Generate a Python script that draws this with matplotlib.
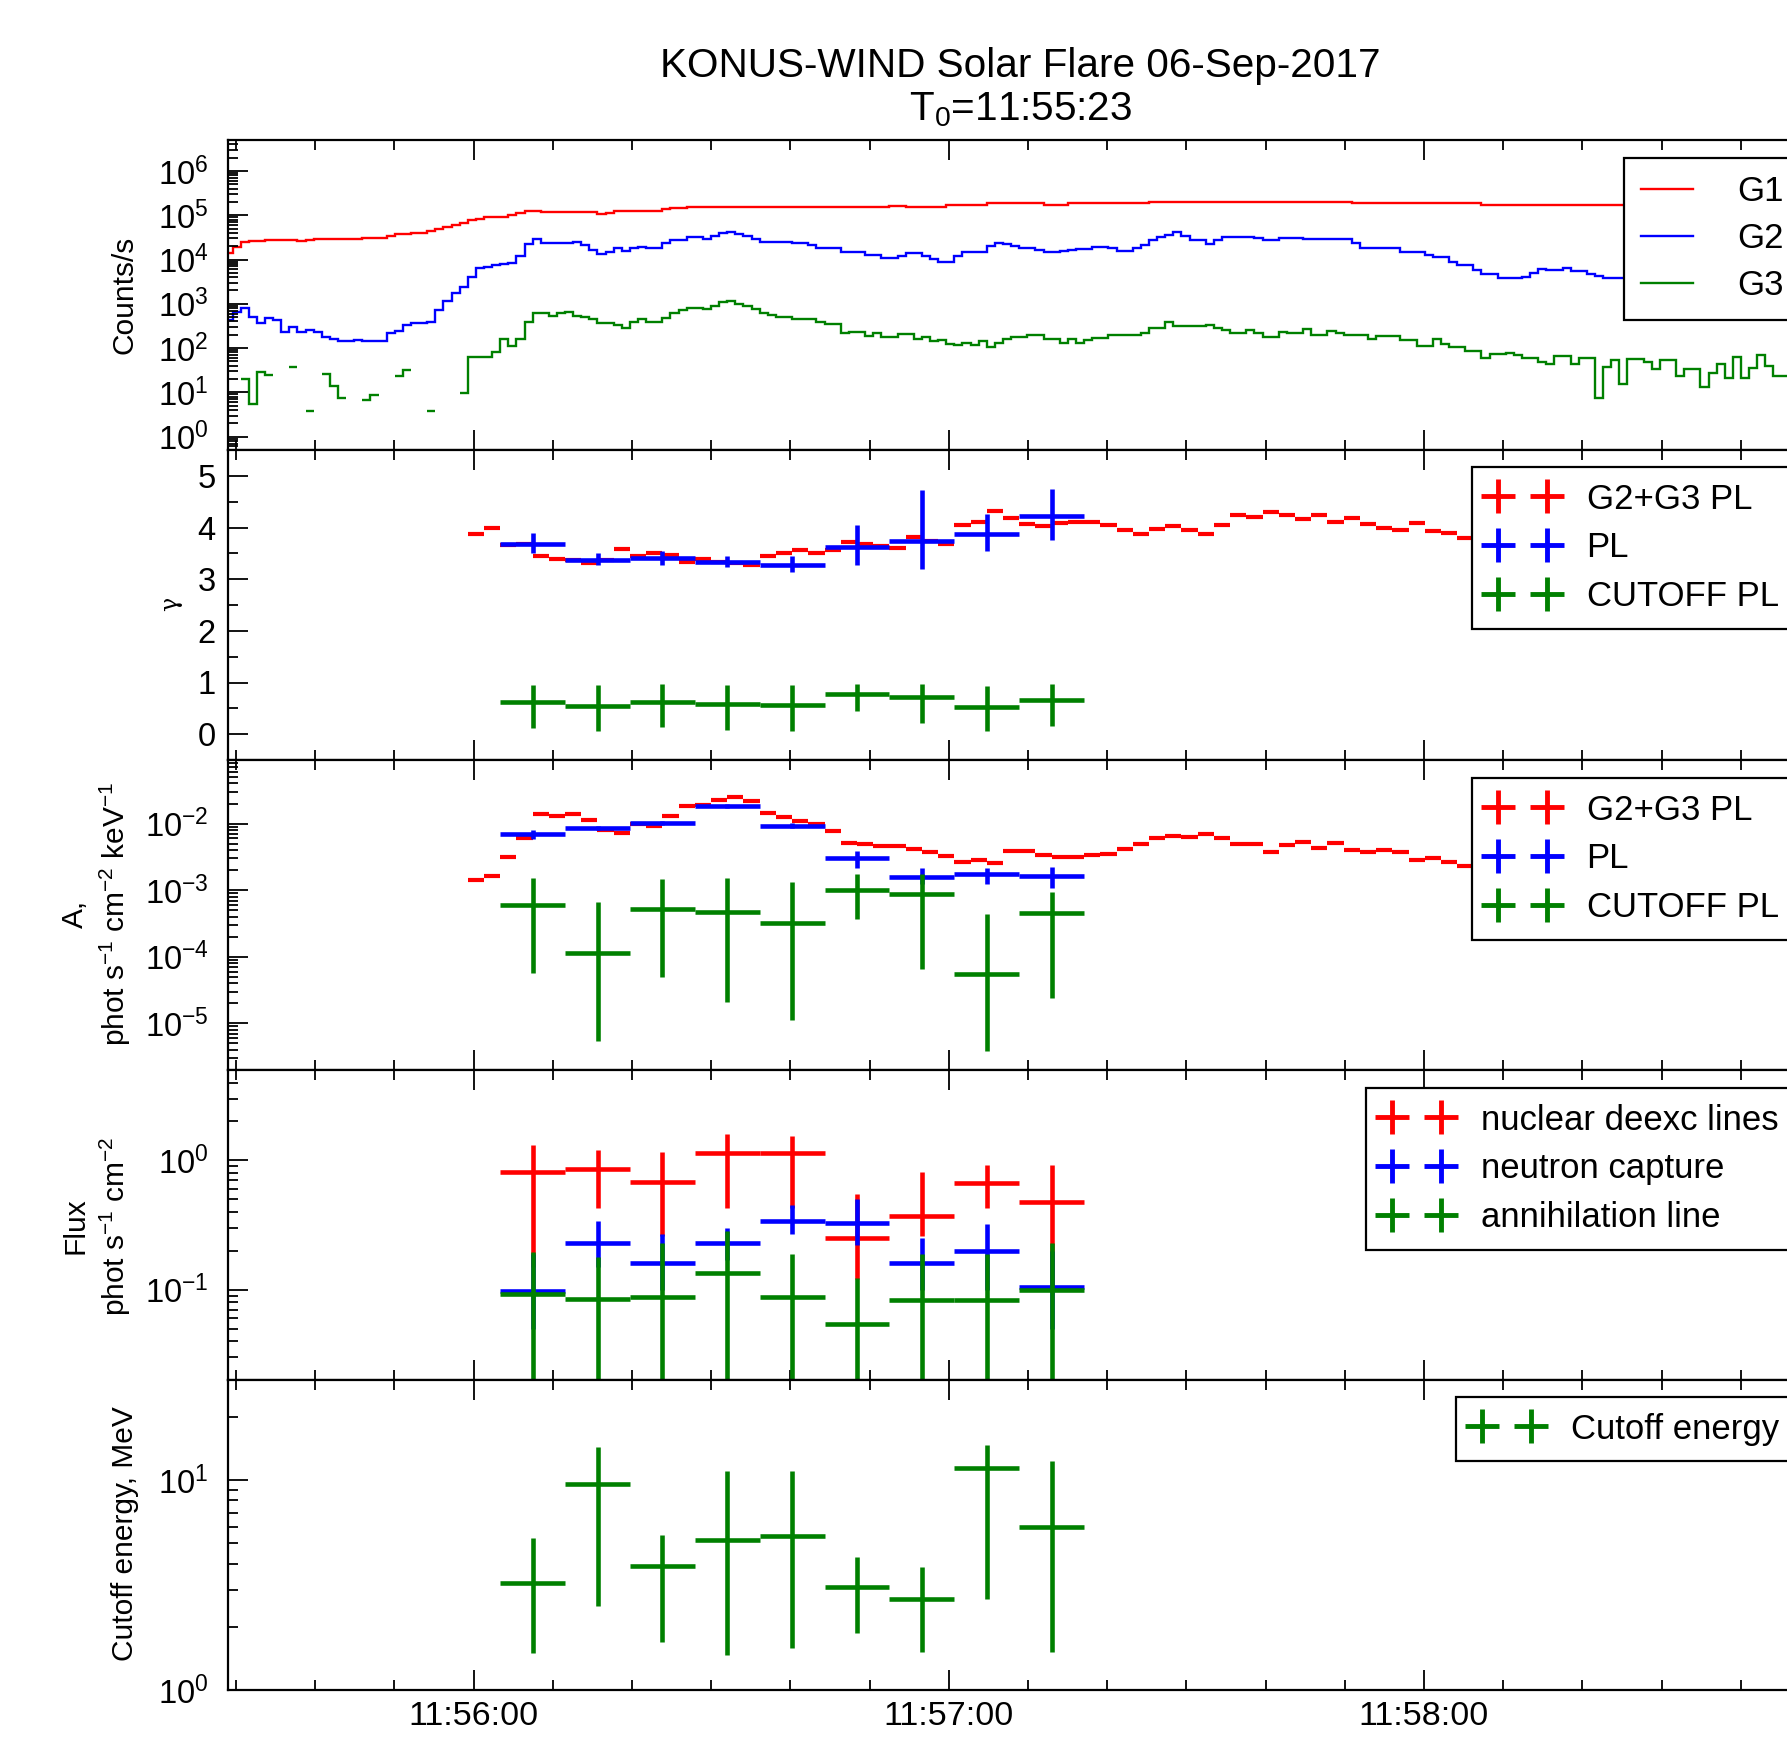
import numpy as np
import matplotlib
matplotlib.use('Agg')
import matplotlib.pyplot as plt
from matplotlib.ticker import MultipleLocator, FixedLocator, FuncFormatter, LogLocator, NullFormatter
from matplotlib.lines import Line2D

plt.rcParams['font.family'] = ['Liberation Sans', 'DejaVu Sans']
plt.rcParams['mathtext.fontset'] = 'custom'
plt.rcParams['mathtext.rm'] = 'Liberation Sans'
plt.rcParams['mathtext.it'] = 'Liberation Sans:italic'
plt.rcParams['mathtext.bf'] = 'Liberation Sans:bold'
plt.rcParams['axes.unicode_minus'] = False

nan = np.nan

# times in seconds after T0 = 11:55:23
T0_SOD = 11 * 3600 + 55 * 60 + 23
lc_start, lc_width = 5.55, 1.024        # light curve bins
sp_start, sp_width = 36.27, 2.048       # G2+G3 PL spectra
sp4_start, sp4_width = 40.37, 8.192     # PL / CUTOFF PL / line spectra

# light curves, log10(counts/s)
g1_log = [
    4.14, 4.28, 4.40, 4.42, 4.42, 4.45, 4.45, 4.43, 4.43, 4.41,
    4.44, 4.46, 4.46, 4.46, 4.46, 4.47, 4.47, 4.49, 4.49, 4.49,
    4.54, 4.57, 4.57, 4.61, 4.61, 4.65, 4.68, 4.73, 4.77, 4.82,
    4.89, 4.92, 4.95, 4.95, 4.97, 5.00, 5.04, 5.09, 5.09, 5.07,
    5.07, 5.07, 5.07, 5.07, 5.07, 5.07, 5.02, 5.06, 5.10, 5.10,
    5.10, 5.10, 5.10, 5.10, 5.13, 5.16, 5.16, 5.19, 5.19, 5.19,
    5.19, 5.19, 5.19, 5.19, 5.19, 5.19, 5.19, 5.19, 5.19, 5.19,
    5.19, 5.19, 5.19, 5.19, 5.19, 5.19, 5.19, 5.19, 5.19, 5.19,
    5.18, 5.18, 5.21, 5.21, 5.19, 5.19, 5.19, 5.19, 5.19, 5.22,
    5.22, 5.22, 5.22, 5.22, 5.27, 5.27, 5.27, 5.27, 5.27, 5.27,
    5.27, 5.23, 5.23, 5.23, 5.27, 5.27, 5.27, 5.27, 5.27, 5.27,
    5.27, 5.27, 5.27, 5.27, 5.31, 5.31, 5.31, 5.31, 5.31, 5.31,
    5.29, 5.29, 5.29, 5.29, 5.29, 5.29, 5.29, 5.29, 5.29, 5.29,
    5.29, 5.29, 5.29, 5.29, 5.29, 5.29, 5.29, 5.29, 5.29, 5.27,
    5.27, 5.27, 5.27, 5.27, 5.27, 5.27, 5.27, 5.27, 5.27, 5.27,
    5.27, 5.27, 5.27, 5.27, 5.27, 5.23, 5.23, 5.23, 5.23, 5.23,
    5.23, 5.23, 5.23, 5.23, 5.22, 5.22, 5.22, 5.22, 5.22, 5.22,
    5.22, 5.22, 5.22, 5.22, 5.22, 5.22, 5.22, 5.22, 5.22, 5.22,
    5.22]
g2_log = [
    2.64, 2.82, 2.91, 2.71, 2.56, 2.69, 2.64, 2.37, 2.47, 2.37,
    2.41, 2.37, 2.26, 2.20, 2.16, 2.16, 2.18, 2.17, 2.17, 2.15,
    2.33, 2.39, 2.52, 2.56, 2.56, 2.60, 2.86, 3.06, 3.25, 3.39,
    3.61, 3.80, 3.84, 3.87, 3.89, 3.92, 4.07, 4.34, 4.46, 4.37,
    4.37, 4.37, 4.37, 4.40, 4.33, 4.22, 4.12, 4.18, 4.25, 4.20,
    4.25, 4.29, 4.27, 4.27, 4.37, 4.44, 4.44, 4.50, 4.50, 4.47,
    4.52, 4.59, 4.62, 4.57, 4.52, 4.46, 4.40, 4.40, 4.39, 4.39,
    4.37, 4.37, 4.33, 4.25, 4.25, 4.25, 4.16, 4.16, 4.16, 4.10,
    4.10, 4.03, 4.03, 4.08, 4.14, 4.14, 4.07, 4.01, 3.95, 3.95,
    4.08, 4.17, 4.17, 4.17, 4.31, 4.37, 4.35, 4.30, 4.25, 4.25,
    4.22, 4.18, 4.18, 4.20, 4.22, 4.24, 4.24, 4.28, 4.28, 4.25,
    4.19, 4.19, 4.26, 4.33, 4.44, 4.50, 4.56, 4.62, 4.54, 4.44,
    4.44, 4.35, 4.44, 4.50, 4.50, 4.50, 4.50, 4.48, 4.44, 4.44,
    4.49, 4.49, 4.49, 4.46, 4.46, 4.46, 4.46, 4.46, 4.46, 4.37,
    4.27, 4.27, 4.27, 4.27, 4.27, 4.16, 4.16, 4.16, 4.10, 4.05,
    4.05, 3.95, 3.88, 3.88, 3.76, 3.67, 3.67, 3.58, 3.58, 3.58,
    3.60, 3.70, 3.78, 3.77, 3.76, 3.80, 3.73, 3.73, 3.67, 3.63,
    3.58, 3.58, 3.58, 3.58, 3.58, 3.58, 3.58, 3.58, 3.58, 3.58,
    3.58]
g3_log = [
    nan, nan, 1.30, 0.74, 1.45, 1.39, nan, nan, 1.57, nan,
    0.57, nan, 1.41, 1.14, 0.88, nan, nan, 0.83, 0.93, nan,
    nan, 1.37, 1.51, nan, nan, 0.57, nan, nan, nan, 0.98,
    1.81, 1.81, 1.81, 1.92, 2.21, 2.05, 2.21, 2.58, 2.79, 2.79,
    2.73, 2.79, 2.82, 2.73, 2.70, 2.66, 2.56, 2.56, 2.52, 2.46,
    2.58, 2.65, 2.58, 2.58, 2.67, 2.80, 2.86, 2.90, 2.90, 2.88,
    2.94, 3.03, 3.06, 3.00, 2.96, 2.88, 2.79, 2.75, 2.71, 2.71,
    2.66, 2.66, 2.66, 2.60, 2.55, 2.55, 2.35, 2.37, 2.37, 2.27,
    2.33, 2.26, 2.26, 2.31, 2.31, 2.21, 2.26, 2.16, 2.18, 2.09,
    2.06, 2.11, 2.06, 2.15, 2.03, 2.12, 2.20, 2.26, 2.26, 2.30,
    2.30, 2.20, 2.20, 2.11, 2.20, 2.11, 2.18, 2.22, 2.22, 2.30,
    2.30, 2.30, 2.30, 2.35, 2.45, 2.45, 2.58, 2.51, 2.51, 2.49,
    2.49, 2.52, 2.45, 2.40, 2.35, 2.35, 2.40, 2.33, 2.24, 2.24,
    2.36, 2.35, 2.35, 2.42, 2.30, 2.30, 2.39, 2.35, 2.29, 2.29,
    2.29, 2.20, 2.28, 2.28, 2.28, 2.18, 2.18, 2.05, 2.05, 2.21,
    2.09, 2.03, 2.03, 1.94, 1.94, 1.77, 1.86, 1.86, 1.90, 1.85,
    1.77, 1.77, 1.69, 1.64, 1.82, 1.82, 1.64, 1.77, 1.77, 0.88,
    1.58, 1.73, 1.18, 1.75, 1.75, 1.69, 1.52, 1.73, 1.73, 1.36,
    1.52, 1.52, 1.13, 1.43, 1.64, 1.32, 1.79, 1.32, 1.54, 1.85,
    1.60, 1.37, 1.37]

# G2+G3 power law fit (2.048 s)
gamma_g23 = [
    3.87, 3.99, 3.67, 3.68, 3.45, 3.40, 3.37, 3.31, 3.37, 3.58,
    3.45, 3.50, 3.47, 3.34, 3.40, 3.34, 3.32, 3.28, 3.44, 3.50,
    3.57, 3.51, 3.57, 3.71, 3.68, 3.65, 3.60, 3.82, 3.73, 3.68,
    4.05, 4.11, 4.32, 4.18, 4.06, 4.03, 4.08, 4.10, 4.10, 4.05,
    3.95, 3.88, 3.98, 4.02, 3.95, 3.87, 4.04, 4.24, 4.21, 4.30,
    4.25, 4.17, 4.24, 4.10, 4.19, 4.06, 4.00, 3.96, 4.09, 3.94,
    3.90, 3.79]
a_g23_log = [
    -2.84, -2.78, -2.50, -2.22, -1.86, -1.88, -1.86, -1.95, -2.09, -2.14,
    -2.00, -2.04, -1.88, -1.74, -1.72, -1.65, -1.60, -1.66, -1.84, -1.90,
    -1.96, -2.00, -2.11, -2.29, -2.30, -2.33, -2.33, -2.38, -2.42, -2.48,
    -2.58, -2.55, -2.59, -2.41, -2.41, -2.47, -2.50, -2.50, -2.47, -2.45,
    -2.38, -2.30, -2.22, -2.18, -2.20, -2.16, -2.22, -2.31, -2.31, -2.42,
    -2.32, -2.28, -2.37, -2.29, -2.39, -2.43, -2.39, -2.42, -2.54, -2.52,
    -2.58, -2.63]

# PL and CUTOFF PL fits (8.192 s)
gamma_pl = [3.68, 3.38, 3.41, 3.34, 3.27, 3.62, 3.74, 3.88, 4.22]
gamma_pl_lo = [0.18, 0.11, 0.14, 0.10, 0.14, 0.35, 0.54, 0.34, 0.46]
gamma_pl_hi = [0.21, 0.13, 0.14, 0.10, 0.17, 0.43, 0.99, 0.38, 0.52]
gamma_cpl = [0.62, 0.55, 0.63, 0.59, 0.57, 0.78, 0.71, 0.52, 0.67]
gamma_cpl_lo = [0.51, 0.48, 0.50, 0.50, 0.50, 0.33, 0.50, 0.46, 0.52]
gamma_cpl_hi = [0.34, 0.40, 0.34, 0.37, 0.38, 0.19, 0.27, 0.42, 0.30]

a_pl_log = [-2.16, -2.07, -1.99, -1.74, -2.03, -2.51, -2.80, -2.75, -2.78]
a_pl_log_lo = [-2.23, -2.10, -2.02, -1.77, -2.07, -2.66, -2.90, -2.90, -2.96]
a_pl_log_hi = [-2.09, -2.04, -1.96, -1.71, -1.99, -2.41, -2.66, -2.66, -2.65]
a_cpl_log = [-3.22, -3.94, -3.28, -3.33, -3.49, -2.99, -3.05, -4.26, -3.34]
a_cpl_log_lo = [-4.25, -5.27, -4.30, -4.68, -4.95, -3.43, -4.19, -5.41, -4.62]
a_cpl_log_hi = [-2.82, -3.17, -2.83, -2.82, -2.87, -2.75, -2.75, -3.35, -3.02]

# line fluxes, phot/s/cm2
flux_nuc = [0.82, 0.86, 0.68, 1.13, 1.13, 0.25, 0.37, 0.67, 0.48]
flux_nuc_lo = [0.15, 0.43, 0.26, 0.43, 0.43, 0.12, 0.26, 0.43, 0.10]
flux_nuc_hi = [1.31, 1.20, 1.17, 1.60, 1.55, 0.55, 0.82, 0.92, 0.92]
flux_ncap = [0.097, 0.229, 0.16, 0.23, 0.34, 0.33, 0.16, 0.20, 0.104]
flux_ncap_lo = [0.05, 0.15, 0.10, 0.17, 0.27, 0.22, 0.10, 0.10, 0.05]
flux_ncap_hi = [0.19, 0.34, 0.27, 0.30, 0.45, 0.50, 0.25, 0.32, 0.20]
flux_ann = [0.093, 0.085, 0.088, 0.135, 0.088, 0.054, 0.083, 0.083, 0.10]
flux_ann_lo = [0.001, 0.001, 0.001, 0.001, 0.001, 0.001, 0.001, 0.001, 0.001]
flux_ann_hi = [0.197, 0.18, 0.23, 0.285, 0.19, 0.123, 0.19, 0.19, 0.23]

# cutoff energy, MeV
e_cut = [3.23, 9.6, 3.9, 5.2, 5.4, 3.1, 2.72, 11.4, 5.97]
e_cut_lo = [1.5, 2.5, 1.7, 1.47, 1.58, 1.86, 1.52, 2.72, 1.52]
e_cut_hi = [5.3, 14.4, 5.5, 11.1, 11.1, 4.3, 3.86, 14.7, 12.4]

RED, BLUE, GREEN = '#ff0000', '#0000ff', '#008000'
W, H = 1787, 1746
fig = plt.figure(figsize=(W / 100, H / 100), dpi=100)

left, right = 228, 1812
tops = [140, 450, 760, 1070, 1380]
ph = 310
axes = []
for tp in tops:
    ax = fig.add_axes([left / W, 1 - (tp + ph) / H, (right - left) / W, ph / H])
    axes.append(ax)
ax1, ax2, ax3, ax4, ax5 = axes


def hms(x, pos=None):
    s = int(round(T0_SOD + x))
    return '%02d:%02d:%02d' % (s // 3600, (s % 3600) // 60, s % 60)


for ax in axes:
    ax.set_xlim(6, 206)
    ax.xaxis.set_major_locator(FixedLocator([37, 97, 157]))
    ax.xaxis.set_minor_locator(MultipleLocator(10, offset=7))
    ax.xaxis.set_major_formatter(FuncFormatter(hms))
    ax.tick_params(which='both', direction='in', top=True, right=True, width=1.3)
    ax.tick_params(which='major', length=14.5, labelsize=23.5, pad=9)
    ax.tick_params(which='minor', length=7.2)
    for sp in ax.spines.values():
        sp.set_linewidth(1.6)
    if ax is not ax5:
        ax.tick_params(labelbottom=False)
ax5.tick_params(axis='x', labelsize=24.5, pad=8)


def log_axis(ax, lo, hi):
    ax.set_yscale('log')
    ax.set_ylim(lo, hi)
    # only the decades inside the panel, so no labels hang over the neighbours
    decades = [10.0 ** k for k in range(int(np.ceil(np.log10(lo) - 1e-9)),
                                        int(np.floor(np.log10(hi) + 1e-9)) + 1)]
    ax.yaxis.set_major_locator(FixedLocator(decades))
    ax.yaxis.set_minor_locator(LogLocator(base=10, subs=np.arange(2, 10), numticks=20))
    ax.yaxis.set_minor_formatter(NullFormatter())
    ax.tick_params(axis='y', which='major', pad=14)


def crosses(ax, start, width, y, lo, hi, color, lw):
    n = len(y)
    xc = start + width * (np.arange(n) + 0.5)
    y = np.asarray(y)
    ax.errorbar(xc, y, xerr=width / 2,
                yerr=[y - np.asarray(lo), np.asarray(hi) - y],
                fmt='none', ecolor=color, elinewidth=lw, capsize=0)


def plus_handles(colors):
    return [Line2D([], [], color=c, marker='+', linestyle='none',
                   markersize=24, markeredgewidth=3.5) for c in colors]


def place_legend(ax, handles, labels, x_px, y_px, **kw):
    leg = ax.legend(handles, labels, loc='upper left',
                    bbox_to_anchor=(x_px / W, 1 - y_px / H), bbox_transform=fig.transFigure,
                    borderaxespad=0, fancybox=False, framealpha=1, edgecolor='black',
                    fontsize=25, **kw)
    leg.get_frame().set_linewidth(1.6)
    return leg


# panel 1: count rates
lc_edges = lambda n: lc_start + lc_width * np.arange(n + 1)
ax1.stairs(10 ** np.array(g1_log), lc_edges(len(g1_log)), baseline=None, color=RED, lw=1.7)
ax1.stairs(10 ** np.array(g2_log), lc_edges(len(g2_log)), baseline=None, color=BLUE, lw=1.7)
ax1.stairs(10 ** np.array(g3_log), lc_edges(len(g3_log)), baseline=None, color=GREEN, lw=1.7)
log_axis(ax1, 0.5, 5e6)
place_legend(ax1, [Line2D([], [], color=c, lw=1.7) for c in (RED, BLUE, GREEN)],
             ['G1', 'G2', 'G3'], 1624, 158,
             handlelength=1.5, handletextpad=1.25, borderpad=0.5, labelspacing=0.4)

# panel 2: photon index
n23 = len(gamma_g23)
ax2.errorbar(sp_start + sp_width * (np.arange(n23) + 0.5), gamma_g23, xerr=sp_width / 2,
             fmt='none', ecolor=RED, elinewidth=3.0, capsize=0)
g = np.array(gamma_pl)
crosses(ax2, sp4_start, sp4_width, g, g - np.array(gamma_pl_lo), g + np.array(gamma_pl_hi), BLUE, 3.3)
g = np.array(gamma_cpl)
crosses(ax2, sp4_start, sp4_width, g, g - np.array(gamma_cpl_lo), g + np.array(gamma_cpl_hi), GREEN, 3.3)
ax2.set_ylim(-0.5, 5.5)
ax2.yaxis.set_major_locator(FixedLocator([0, 1, 2, 3, 4, 5]))
ax2.yaxis.set_minor_locator(FixedLocator([0.5, 1.5, 2.5, 3.5, 4.5]))
leg_kw = dict(numpoints=2, handlelength=2.0, handletextpad=0.85, borderpad=0.45, labelspacing=0.45)
place_legend(ax2, plus_handles((RED, BLUE, GREEN)), ['G2+G3 PL', 'PL', 'CUTOFF PL'], 1472, 467, **leg_kw)

# panel 3: normalisation
ax3.errorbar(sp_start + sp_width * (np.arange(n23) + 0.5), 10 ** np.array(a_g23_log), xerr=sp_width / 2,
             fmt='none', ecolor=RED, elinewidth=3.0, capsize=0)
crosses(ax3, sp4_start, sp4_width, 10 ** np.array(a_pl_log), 10 ** np.array(a_pl_log_lo),
        10 ** np.array(a_pl_log_hi), BLUE, 3.3)
crosses(ax3, sp4_start, sp4_width, 10 ** np.array(a_cpl_log), 10 ** np.array(a_cpl_log_lo),
        10 ** np.array(a_cpl_log_hi), GREEN, 3.3)
log_axis(ax3, 2e-6, 0.09)
place_legend(ax3, plus_handles((RED, BLUE, GREEN)), ['G2+G3 PL', 'PL', 'CUTOFF PL'], 1472, 778, **leg_kw)

# panel 4: line fluxes
crosses(ax4, sp4_start, sp4_width, flux_nuc, flux_nuc_lo, flux_nuc_hi, RED, 3.3)
crosses(ax4, sp4_start, sp4_width, flux_ncap, flux_ncap_lo, flux_ncap_hi, BLUE, 3.3)
crosses(ax4, sp4_start, sp4_width, flux_ann, flux_ann_lo, flux_ann_hi, GREEN, 3.3)
log_axis(ax4, 0.02, 5)
place_legend(ax4, plus_handles((RED, BLUE, GREEN)),
             ['nuclear deexc lines', 'neutron capture', 'annihilation line'], 1366, 1088, **leg_kw)

# panel 5: cutoff energy
crosses(ax5, sp4_start, sp4_width, e_cut, e_cut_lo, e_cut_hi, GREEN, 3.3)
log_axis(ax5, 1, 30)
place_legend(ax5, plus_handles((GREEN,)), ['Cutoff energy'], 1456, 1397, **leg_kw)

# labels and title
lab = dict(rotation=90, ha='center', va='center', multialignment='center', fontsize=21.5)
fig.text(125 / W, 1 - 295 / H, 'Counts/s', **lab)
fig.text(171 / W, 1 - 604 / H, '\u03b3', rotation=90, ha='center', va='center',
         fontsize=17, family='DejaVu Serif')
fig.text(97 / W, 1 - 914 / H, 'A,\nphot s$^{-1}$ cm$^{-2}$ keV$^{-1}$', linespacing=1.3, **lab)
fig.text(97 / W, 1 - 1226 / H, 'Flux\nphot s$^{-1}$ cm$^{-2}$', linespacing=1.3, **lab)
fig.text(125 / W, 1 - 1534 / H, 'Cutoff energy, MeV', **lab)

fig.text(1020 / W, 1 - 66 / H, 'KONUS-WIND Solar Flare 06-Sep-2017', ha='center', va='center', fontsize=29.2)
fig.text(1020 / W, 1 - 110 / H, 'T$_0$=11:55:23', ha='center', va='center', fontsize=29.2)

fig.savefig('out.png', dpi=100)
